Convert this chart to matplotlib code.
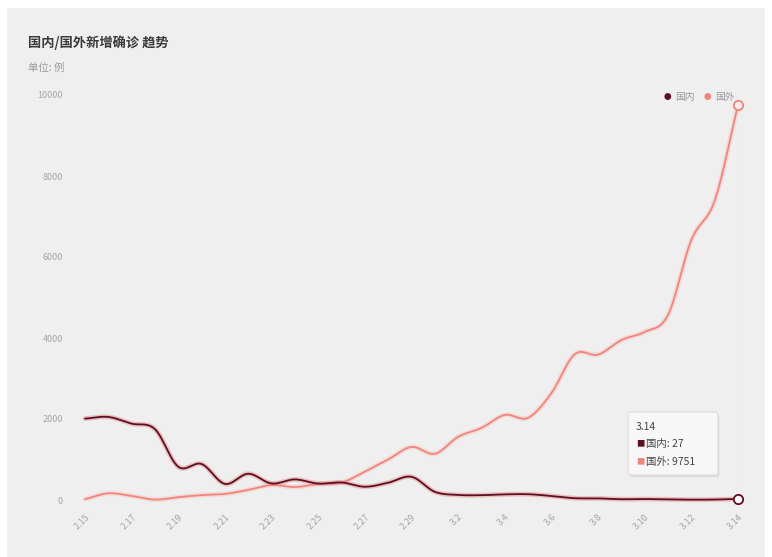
import numpy as np
import matplotlib
matplotlib.use("Agg")
import matplotlib.pyplot as plt
import matplotlib.patheffects as pe
from matplotlib.patches import FancyBboxPatch, Rectangle

plt.rcParams['font.family'] = ['Noto Sans CJK SC', 'DejaVu Sans']

# 日期 (2020-02-15 ~ 2020-03-14)
dates = ["2.15", "2.16", "2.17", "2.18", "2.19", "2.20", "2.21", "2.22", "2.23",
         "2.24", "2.25", "2.26", "2.27", "2.28", "2.29", "3.1", "3.2", "3.3",
         "3.4", "3.5", "3.6", "3.7", "3.8", "3.9", "3.10", "3.11", "3.12",
         "3.13", "3.14"]

# 国内新增确诊
guonei = [2009, 2051, 1886, 1749, 820, 889, 397, 648, 409, 508, 406, 433, 327,
          427, 573, 202, 125, 119, 139, 143, 99, 44, 40, 19, 24, 15, 8, 11, 27]

# 国外新增确诊
guowai = [20, 165, 100, 10, 70, 120, 150, 250, 370, 320, 395, 430, 700, 1000,
          1310, 1140, 1560, 1780, 2100, 2030, 2640, 3600, 3590, 3950, 4150,
          4570, 6420, 7390, 9751]

yticks = [0, 2000, 4000, 6000, 8000, 10000]

c_nei = "#5e0f1f"
c_wai = "#f0857c"


def smooth(x, y, n=12):
    # Catmull-Rom 曲线, 只用来画平滑线
    x = np.asarray(x, float)
    y = np.asarray(y, float)
    m = np.gradient(y, x)
    xs, ys = [], []
    for i in range(len(x) - 1):
        t = np.linspace(0, 1, n, endpoint=False)
        h = x[i + 1] - x[i]
        h00 = 2 * t**3 - 3 * t**2 + 1
        h10 = t**3 - 2 * t**2 + t
        h01 = -2 * t**3 + 3 * t**2
        h11 = t**3 - t**2
        xs.append(x[i] + t * h)
        ys.append(h00 * y[i] + h10 * h * m[i] + h01 * y[i + 1] + h11 * h * m[i + 1])
    xs.append([x[-1]])
    ys.append([y[-1]])
    return np.concatenate(xs), np.concatenate(ys)


W, H = 772, 557
fig = plt.figure(figsize=(W / 100, H / 100), dpi=100, facecolor="white")
fig.patches.append(Rectangle((7 / W, 0), 1 - 14 / W, 1 - 8 / H,
                             transform=fig.transFigure, facecolor="#efefef",
                             edgecolor="none", zorder=-10))

ax = fig.add_axes([85 / W, 57 / H, 653 / W, 405 / H])
ax.set_facecolor("none")

x = np.arange(len(dates))

sx, sy = smooth(x, guowai)
ax.plot(sx, sy, color=c_wai, lw=1.3, solid_capstyle="round",
        path_effects=[pe.Stroke(linewidth=3.5, foreground="#f7b3ad", alpha=0.35), pe.Normal()],
        zorder=3, clip_on=False)
sx, sy = smooth(x, guonei)
ax.plot(sx, sy, color=c_nei, lw=1.3, solid_capstyle="round",
        path_effects=[pe.Stroke(linewidth=3.5, foreground="#e07a7a", alpha=0.4), pe.Normal()],
        zorder=4, clip_on=False)

# 指示线和末端圆点
ax.axvline(x[-1], color="#cccccc", lw=0.8, zorder=2)
ax.scatter([x[-1]], [guowai[-1]], s=45, facecolor="#fbeaea", edgecolor=c_wai,
           lw=1.3, zorder=6, clip_on=False)
ax.scatter([x[-1]], [guonei[-1]], s=45, facecolor="white", edgecolor=c_nei,
           lw=1.3, zorder=6, clip_on=False)

ax.set_xlim(0, len(dates) - 1)
ax.set_ylim(0, 10000)
ax.set_yticks(yticks)
ax.set_yticklabels([str(v) for v in yticks], fontsize=6.5, color="#a5a5a5")
ax.set_xticks(x[::2])
ax.set_xticklabels(dates[::2], fontsize=6.5, color="#a5a5a5", rotation=45,
                   ha="right", va="top", rotation_mode="anchor")
ax.tick_params(length=0, pad=16, axis="y")
ax.tick_params(length=0, pad=9, axis="x")
for s in ax.spines.values():
    s.set_visible(False)

# 标题
fig.text(28 / W, 1 - 43 / H, "国内/国外新增确诊 趋势", fontsize=9.5,
         fontweight="bold", color="#3a3a3a", va="center")
fig.text(28 / W, 1 - 68 / H, "单位: 例", fontsize=7.5, color="#999999", va="center")

# 图例
fig.text(667 / W, 1 - 97 / H, "●", fontsize=5.5, color=c_nei, va="center", ha="center")
fig.text(675 / W, 1 - 97 / H, "国内", fontsize=7, color="#999999", va="center")
fig.text(707 / W, 1 - 97 / H, "●", fontsize=5.5, color=c_wai, va="center", ha="center")
fig.text(715 / W, 1 - 97 / H, "国外", fontsize=7, color="#999999", va="center")

# 提示框
box = FancyBboxPatch((628 / W, 1 - 475 / H), 90 / W, 63 / H,
                     boxstyle="round,pad=0,rounding_size=0.004",
                     transform=fig.transFigure, facecolor="#f7f7f7",
                     edgecolor="#e6dada", lw=0.8, zorder=8,
                     path_effects=[pe.SimplePatchShadow(offset=(1, -1.5), alpha=0.12), pe.Normal()])
fig.patches.append(box)
fig.text(636 / W, 1 - 427 / H, dates[-1], fontsize=7.5, color="#444444",
         va="center", zorder=9)
fig.text(636 / W, 1 - 444 / H, "■", fontsize=6, color=c_nei, va="center", zorder=9)
fig.text(646 / W, 1 - 444 / H, "国内: %d" % guonei[-1], fontsize=7.5,
         color="#444444", va="center", zorder=9)
fig.text(636 / W, 1 - 462 / H, "■", fontsize=6, color=c_wai, va="center", zorder=9)
fig.text(646 / W, 1 - 462 / H, "国外: %d" % guowai[-1], fontsize=7.5,
         color="#444444", va="center", zorder=9)

fig.savefig("out.png", dpi=100, facecolor=fig.get_facecolor())
